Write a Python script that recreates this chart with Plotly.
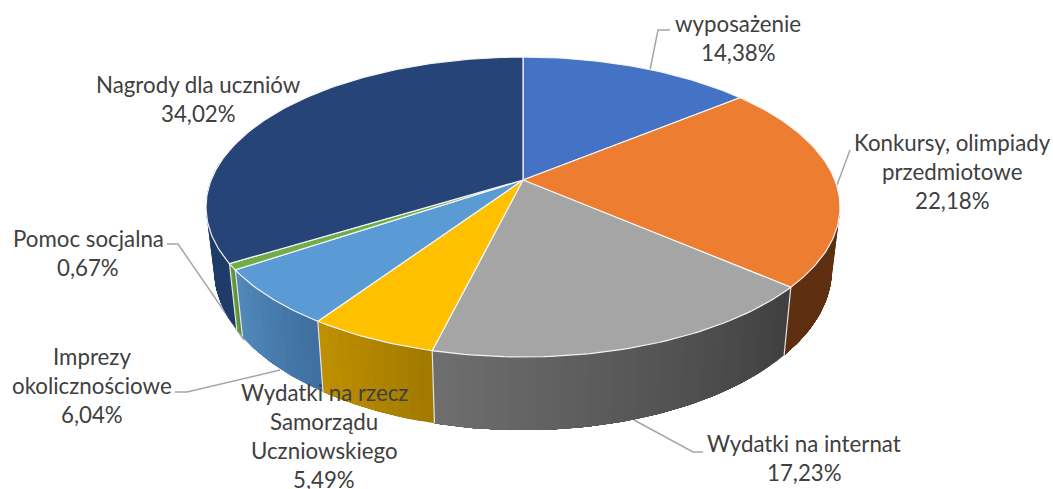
import math
import plotly.graph_objects as go

# Data
categories = ["wyposażenie", "Konkursy, olimpiady przedmiotowe", "Wydatki na internat",
              "Wydatki na rzecz Samorządu Uczniowskiego", "Imprezy okolicznościowe",
              "Pomoc socjalna", "Nagrody dla uczniów"]
values = [14.38, 22.18, 17.23, 5.49, 6.04, 0.67, 34.02]
top_colors = ["#4472C4", "#ED7D31", "#A5A5A5", "#FFC000", "#5B9BD5", "#70AD47", "#264478"]
# wall colour at the earlier and later angle of each slice (clockwise from the top)
wall_start = ["#28436F", "#5E2F10", "#404040", "#A27A00", "#3F709F", "#5C8F38", "#1F3B68"]
wall_end = ["#28436F", "#5E2F10", "#6E6E6E", "#BE8F00", "#5088BB", "#669F40", "#1F3B68"]

label_lines = [["wyposażenie"], ["Konkursy, olimpiady", "przedmiotowe"], ["Wydatki na internat"],
               ["Wydatki na rzecz", "Samorządu", "Uczniowskiego"], ["Imprezy", "okolicznościowe"],
               ["Pomoc socjalna"], ["Nagrody dla uczniów"]]
label_center_x = [738, 952, 804, 324, 92, 88, 198]
label_first_y = [23, 142, 443, 392.5, 356, 238, 84]
line_gap = 29.0
leaders = [
    [(650, 70), (658, 30), (670, 30)],
    [(837, 185), (850, 150)],
    [(634, 420), (693, 452), (703, 452)],
    [(280, 370), (187, 392), (175, 392)],
    [(167, 244), (178, 244), (244, 340)],
]

CX, CY, RX, RY, PERSP = 523.0, 180.0, 311.8, 145.1, 0.18
SKEW_DEG = 1.2
DEPTH, SHRINK = 60.0, 0.975
FONT = "Lato"
TEXT = "#404040"


def warp(deg):
    return math.radians(deg - SKEW_DEG * math.sin(math.radians(deg)))


def top_pt(deg):
    a = warp(deg)
    w = 1 + PERSP * math.cos(a)
    return CX + RX * math.sin(a) / w, CY - RY * math.cos(a) / w


def bot_pt(deg):
    a = warp(deg)
    w = 1 + PERSP * math.cos(a)
    x, y = top_pt(deg)
    return CX + (x - CX) * SHRINK, y + DEPTH / w


def mix(c1, c2, t):
    p = [int(c1[i:i + 2], 16) for i in (1, 3, 5)]
    q = [int(c2[i:i + 2], 16) for i in (1, 3, 5)]
    return "#%02X%02X%02X" % tuple(round(a + (b - a) * t) for a, b in zip(p, q))


def poly(fig, pts, fill=None, line=None, width=1.0, close=True):
    xs = [p[0] for p in pts]
    ys = [p[1] for p in pts]
    if close:
        xs.append(xs[0])
        ys.append(ys[0])
    fig.add_trace(go.Scatter(
        x=xs, y=ys, mode="lines",
        fill="toself" if fill else "none", fillcolor=fill,
        line=dict(color=line or "rgba(0,0,0,0)", width=width if line else 0),
        hoverinfo="skip", showlegend=False))


def arc_range(a, b, step=1.0):
    n = max(2, int(math.ceil((b - a) / step)) + 1)
    return [a + (b - a) * i / (n - 1) for i in range(n)]


total = sum(values)
edges = [0.0]
for v in values:
    edges.append(edges[-1] + v / total * 360)

fig = go.Figure()

# Leader lines: the one passing behind the pie is covered by the wall
for path in leaders:
    poly(fig, path, line="#A6A6A6", width=1.5, close=False)

# Walls (front half only)
WALL_FROM, WALL_TO = 90.0, 276.0
for i in range(len(values)):
    a = max(edges[i], WALL_FROM)
    b = min(edges[i + 1], WALL_TO)
    if b <= a:
        continue
    # painted from the far end so each strip overlaps the previous one, hiding seams
    angles = arc_range(a, b, 2.0)
    for j in range(len(angles) - 1):
        col = mix(wall_start[i], wall_end[i], j / max(1, len(angles) - 2))
        sub = arc_range(angles[j], b, 1.0)
        pts = [top_pt(s) for s in sub] + [bot_pt(s) for s in reversed(sub)]
        poly(fig, pts, fill=col)

# Light separators on the wall
for e in edges:
    if WALL_FROM < e < WALL_TO:
        poly(fig, [top_pt(e), bot_pt(e)], line="#E4E4E4", width=1.2, close=False)

# Top face
for i in range(len(values)):
    pts = [(CX, CY)] + [top_pt(s) for s in arc_range(edges[i], edges[i + 1], 1.0)]
    poly(fig, pts, fill=top_colors[i], line="#F4F4F4", width=1.2)

# Text
annotations = []
for i, lines in enumerate(label_lines):
    texts = lines + [f"{values[i]:.2f}%".replace(".", ",")]
    for k, t in enumerate(texts):
        annotations.append(dict(
            x=label_center_x[i], y=label_first_y[i] + k * line_gap, xref="x", yref="y",
            text=t, showarrow=False, xanchor="center", yanchor="middle",
            font=dict(family=FONT, size=22.3, color=TEXT)))

fig.update_layout(
    width=1053, height=489, margin=dict(l=0, r=0, t=0, b=0),
    paper_bgcolor="white", plot_bgcolor="white", showlegend=False,
    xaxis=dict(range=[0, 1053], visible=False, fixedrange=True),
    yaxis=dict(range=[489, 0], visible=False, fixedrange=True),
    annotations=annotations)

fig.write_html("out.html", config={"displayModeBar": False},
               post_script="document.body.style.margin='0';document.documentElement.style.overflow='hidden';")
